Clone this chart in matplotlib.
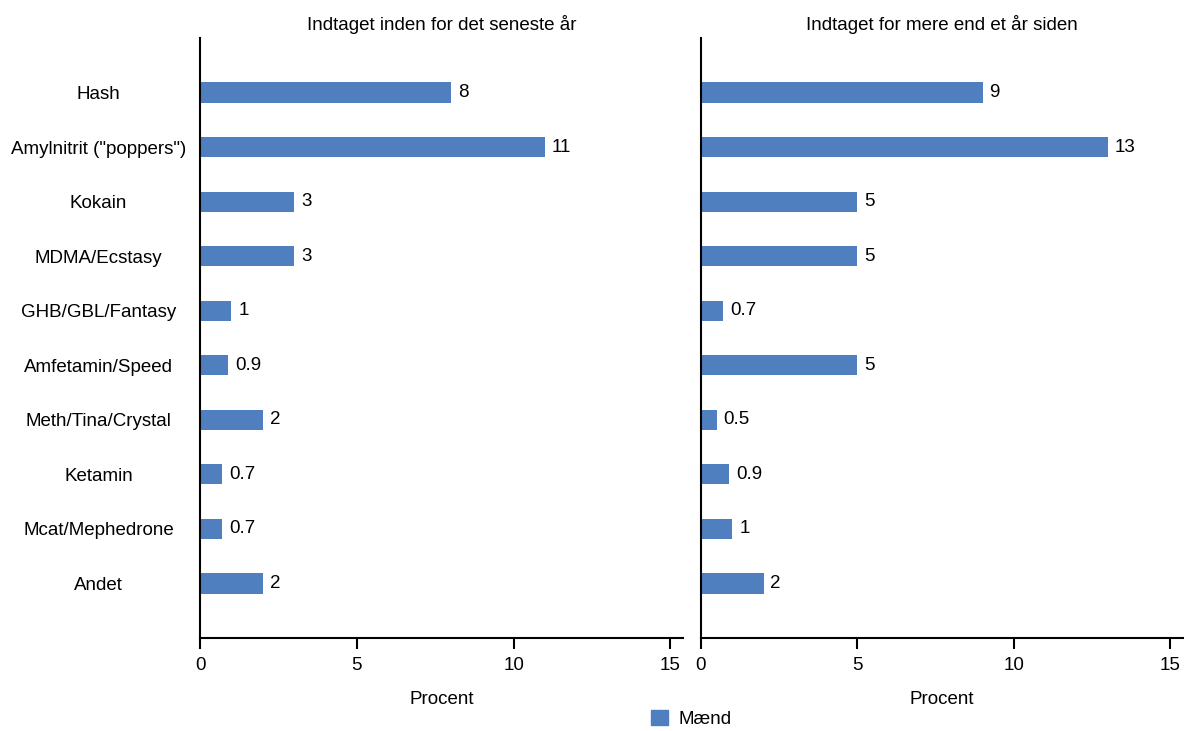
import matplotlib.pyplot as plt
from matplotlib.patches import Patch

plt.rcParams['font.family'] = ['Liberation Sans', 'DejaVu Sans']

# Data
kategorier = ['Hash', 'Amylnitrit ("poppers")', 'Kokain', 'MDMA/Ecstasy',
              'GHB/GBL/Fantasy', 'Amfetamin/Speed', 'Meth/Tina/Crystal',
              'Ketamin', 'Mcat/Mephedrone', 'Andet']
seneste_aar = [8, 11, 3, 3, 1, 0.9, 2, 0.7, 0.7, 2]
mere_end_aar = [9, 13, 5, 5, 0.7, 5, 0.5, 0.9, 1, 2]
titler = ['Indtaget inden for det seneste år', 'Indtaget for mere end et år siden']

farve = '#4F7FBF'
fs = 13.5

fig = plt.figure(figsize=(11.84, 7.31), dpi=100, facecolor='white')
ax1 = fig.add_axes([200/1184, 1 - 638/731, 483/1184, 600/731])
ax2 = fig.add_axes([701/1184, 1 - 638/731, 482/1184, 600/731])

pos = list(range(len(kategorier)))

for ax, vals, titel in zip([ax1, ax2], [seneste_aar, mere_end_aar], titler):
    ax.barh(pos, vals, height=0.37, color=farve)
    for p, v in zip(pos, vals):
        ax.text(v + 0.22, p, f'{v:g}', va='center', ha='left', fontsize=fs)
    ax.set_xlim(0, 15.4)
    ax.set_ylim(10, -1)
    ax.set_xticks([0, 5, 10, 15])
    ax.spines['top'].set_visible(False)
    ax.spines['right'].set_visible(False)
    ax.spines['left'].set_linewidth(1.5)
    ax.spines['bottom'].set_linewidth(1.5)
    ax.tick_params(axis='x', length=8, width=1.5, labelsize=fs, pad=6)
    ax.tick_params(axis='y', length=0)
    ax.set_xlabel('Procent', fontsize=fs, labelpad=12)
    ax.set_title(titel, fontsize=fs, pad=6)

ax1.set_yticks(pos)
ax1.set_yticklabels(kategorier, fontsize=fs, ha='center')
ax1.tick_params(axis='y', pad=73)
ax2.set_yticks([])

fig.legend(handles=[Patch(color=farve, label='Mænd')], loc='upper left',
           bbox_to_anchor=(645/1184, 1 - 704/731), frameon=False, fontsize=fs,
           handlelength=0.9, handleheight=0.9, handletextpad=0.6,
           borderaxespad=0, borderpad=0.3)

plt.savefig('out.png', dpi=100, facecolor='white')
